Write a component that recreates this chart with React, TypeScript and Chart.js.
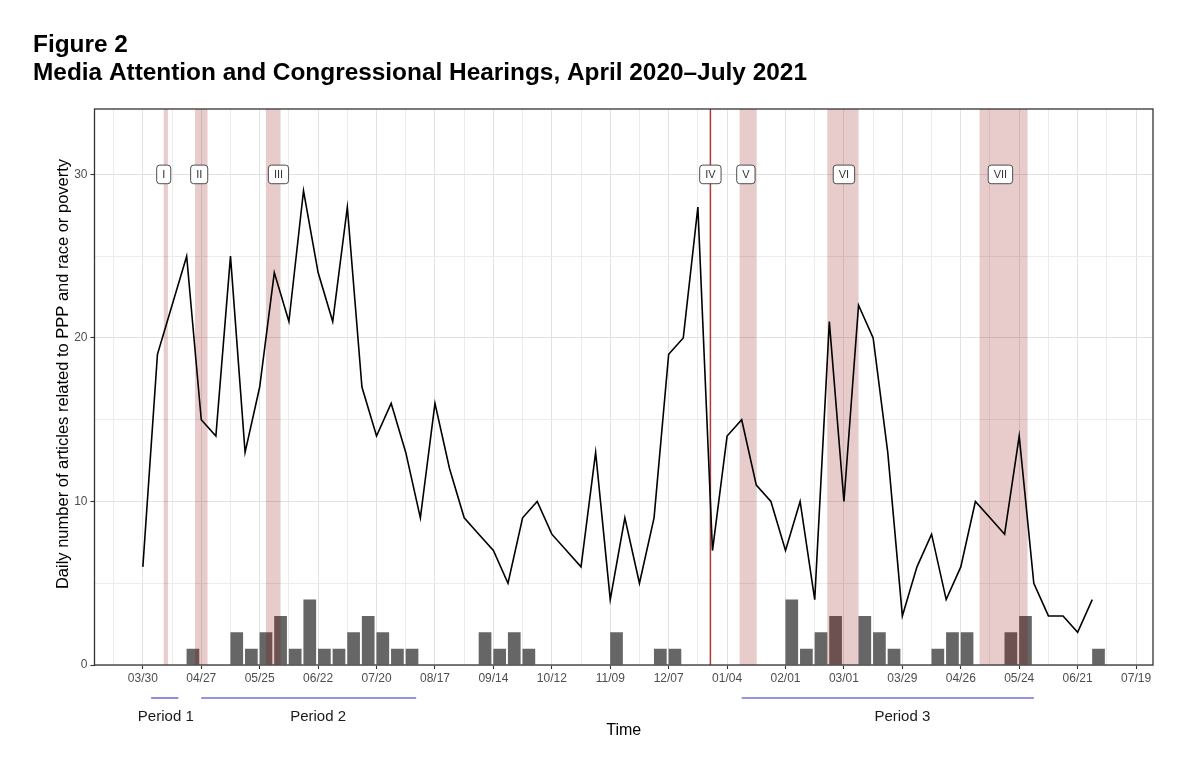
import React, { useEffect, useRef } from "react";
import { Chart, registerables } from "chart.js";

Chart.register(...registerables);

const FONT = "'Liberation Sans', Arial, Helvetica, sans-serif";

// Weekly series; week 0 begins Monday 2020-03-30
const SERIES_START = "2020-03-30";

// Daily number of articles related to PPP and race or poverty (one value per week)
const articleCounts = [
  6, 19, 22, 25, 15, 14, 25, 13, 17, 24, 21, 29, 24, 21, 28, 17, 14, 16, 13, 9,
  16, 12, 9, 8, 7, 5, 9, 10, 8, 7, 6, 13, 4, 9, 5, 9, 19, 20, 28, 7,
  14, 15, 11, 10, 7, 10, 4, 21, 10, 22, 20, 13, 3, 6, 8, 4, 6, 10, 9, 8,
  14, 5, 3, 3, 2, 4,
];

// Congressional hearings per week (week index, count)
const hearingWeeks = [
  3, 6, 7, 8, 9, 10, 11, 12, 13, 14, 15, 16, 17, 18, 23, 24, 25, 26, 32, 35,
  36, 44, 45, 46, 47, 49, 50, 51, 54, 55, 56, 59, 60, 65,
];
const hearingCounts = [
  1, 2, 1, 2, 3, 1, 4, 1, 1, 2, 3, 2, 1, 1, 2, 1, 2, 1, 2, 1,
  1, 4, 1, 2, 3, 3, 2, 1, 1, 2, 2, 2, 3, 1,
];

// Axis tick labels
const xTickLabels = [
  "03/30", "04/27", "05/25", "06/22", "07/20", "08/17", "09/14", "10/12", "11/09",
  "12/07", "01/04", "02/01", "03/01", "03/29", "04/26", "05/24", "06/21", "07/19",
];
const yTickLabels = [0, 10, 20, 30];

// Key events (inclusive date windows); a one-day entry is drawn as a rule
const eventNames = ["I", "II", "III", "IV", "V", "VI", "VII"];
const eventStarts = ["2020-04-09", "2020-04-24", "2020-05-28", "2020-12-27", "2021-01-10", "2021-02-21", "2021-05-05"];
const eventEnds = ["2020-04-10", "2020-04-29", "2020-06-03", "2020-12-27", "2021-01-17", "2021-03-07", "2021-05-27"];
const eventLabelDates = ["2020-04-09", "2020-04-26", "2020-06-03", "2020-12-27", "2021-01-13", "2021-03-01", "2021-05-15"];
const eventLabelLevel = 30;

// PPP application periods
const periodNames = ["Period 1", "Period 2", "Period 3"];
const periodStarts = ["2020-04-03", "2020-04-27", "2021-01-11"];
const periodEnds = ["2020-04-16", "2020-08-08", "2021-05-31"];
const periodLabelDates = ["2020-04-10", "2020-06-22", "2021-03-29"];

const TITLE_1 = "Figure 2";
const TITLE_2 = "Media Attention and Congressional Hearings, April 2020\u2013July 2021";
const Y_TITLE = "Daily number of articles related to PPP and race or poverty";
const X_TITLE = "Time";

const X_MIN = -3.31;
const X_MAX = 69.16;
const Y_MAX = 34;

const DAY_MS = 86400000;
const weeksFrom = (iso: string) =>
  (Date.parse(iso + "T00:00:00Z") - Date.parse(SERIES_START + "T00:00:00Z")) / (7 * DAY_MS);

const xGridWeeks: number[] = [];
for (let w = -2; w <= 68; w += 2) xGridWeeks.push(w);
const yGridValues: number[] = [];
for (let v = 0; v <= 30; v += 5) yGridValues.push(v);

const lineData = articleCounts.map((v, i) => ({ x: i, y: v }));
// bars sit at mid-week (Thursday) of each week
const barData = hearingWeeks.map((w, i) => ({ x: w + 3 / 7, y: hearingCounts[i] }));

const overlayPlugin = {
  id: "overlay",
  afterDatasetDraw(chart: any, args: any) {
    if (args.meta.type !== "bar") return;
    const { ctx, chartArea: a } = chart;
    const x = chart.scales.x;
    ctx.save();
    ctx.beginPath();
    ctx.rect(a.left, a.top, a.right - a.left, a.bottom - a.top);
    ctx.clip();
    eventStarts.forEach((s, i) => {
      const e = eventEnds[i];
      if (s === e) {
        const px = x.getPixelForValue(weeksFrom(s));
        ctx.strokeStyle = "rgba(165,35,35,0.9)";
        ctx.lineWidth = 1.5;
        ctx.beginPath();
        ctx.moveTo(px, a.top);
        ctx.lineTo(px, a.bottom);
        ctx.stroke();
      } else {
        const x0 = x.getPixelForValue(weeksFrom(s));
        const x1 = x.getPixelForValue(weeksFrom(e) + 1 / 7);
        ctx.fillStyle = "rgba(139,0,0,0.2)";
        ctx.fillRect(x0, a.top, x1 - x0, a.bottom - a.top);
      }
    });
    ctx.restore();
  },
  afterDatasetsDraw(chart: any) {
    const { ctx, chartArea: a } = chart;
    const x = chart.scales.x;
    const y = chart.scales.y;
    // panel border
    ctx.save();
    ctx.strokeStyle = "#333333";
    ctx.lineWidth = 1.3;
    ctx.strokeRect(a.left, a.top, a.right - a.left, a.bottom - a.top);
    // event labels
    ctx.font = `11px ${FONT}`;
    ctx.textAlign = "center";
    ctx.textBaseline = "middle";
    eventNames.forEach((name, i) => {
      const cx = x.getPixelForValue(weeksFrom(eventLabelDates[i]));
      const cy = y.getPixelForValue(eventLabelLevel);
      const w = ctx.measureText(name).width + 11;
      const h = 18.6;
      ctx.beginPath();
      ctx.roundRect(cx - w / 2, cy - h / 2, w, h, 3);
      ctx.fillStyle = "#ffffff";
      ctx.fill();
      ctx.strokeStyle = "#3a3a3a";
      ctx.lineWidth = 0.9;
      ctx.stroke();
      ctx.fillStyle = "#333333";
      ctx.fillText(name, cx, cy + 0.5);
    });
    ctx.restore();
  },
  afterDraw(chart: any) {
    const { ctx, chartArea: a } = chart;
    const x = chart.scales.x;
    ctx.save();
    // headings
    ctx.fillStyle = "#000000";
    ctx.textAlign = "left";
    ctx.textBaseline = "alphabetic";
    ctx.font = `bold 24.4px ${FONT}`;
    ctx.fillText(TITLE_1, 33, 52);
    ctx.fillText(TITLE_2, 33, 79.5);
    // y-axis title
    ctx.save();
    ctx.translate(68, 374);
    ctx.rotate(-Math.PI / 2);
    ctx.textAlign = "center";
    ctx.font = `16.5px ${FONT}`;
    ctx.fillStyle = "#000000";
    ctx.fillText(Y_TITLE, 0, 0);
    ctx.restore();
    // period brackets below the axis
    ctx.strokeStyle = "#6f6fd8";
    ctx.lineWidth = 1.6;
    periodNames.forEach((name, i) => {
      const x0 = x.getPixelForValue(weeksFrom(periodStarts[i]));
      const x1 = x.getPixelForValue(weeksFrom(periodEnds[i]));
      ctx.beginPath();
      ctx.moveTo(x0, 698);
      ctx.lineTo(x1, 698);
      ctx.stroke();
      ctx.font = `15px ${FONT}`;
      ctx.fillStyle = "#1a1a1a";
      ctx.textAlign = "center";
      ctx.fillText(name, x.getPixelForValue(weeksFrom(periodLabelDates[i])), 721);
    });
    // x-axis title
    ctx.font = `16px ${FONT}`;
    ctx.fillStyle = "#000000";
    ctx.textAlign = "center";
    ctx.fillText(X_TITLE, (a.left + a.right) / 2, 735);
    ctx.restore();
  },
};

export default function App() {
  const ref = useRef<HTMLCanvasElement>(null);

  useEffect(() => {
    if (!ref.current) return;
    const majorX = (v: number) => v % 4 === 0;
    const majorY = (v: number) => yTickLabels.includes(v);
    const chart = new Chart(ref.current, {
      type: "bar",
      data: {
        datasets: [
          {
            type: "line",
            label: "Articles",
            data: lineData,
            borderColor: "#000000",
            borderWidth: 1.6,
            pointRadius: 0,
            tension: 0,
            order: 1,
          } as any,
          {
            type: "bar",
            label: "Hearings",
            data: barData,
            backgroundColor: "#666666",
            borderWidth: 0,
            categoryPercentage: 1,
            barPercentage: 0.87,
            order: 2,
          } as any,
        ],
      },
      options: {
        animation: false,
        responsive: false,
        maintainAspectRatio: false,
        devicePixelRatio: 1,
        layout: { padding: { left: 0, top: 109, right: 47, bottom: 0 } },
        plugins: { legend: { display: false }, tooltip: { enabled: false }, title: { display: false } },
        scales: {
          x: {
            type: "linear",
            min: X_MIN,
            max: X_MAX,
            offset: false,
            afterBuildTicks: (s: any) => {
              s.ticks = xGridWeeks.map((v) => ({ value: v }));
            },
            afterFit: (s: any) => {
              s.height = 100;
            },
            ticks: {
              autoSkip: false,
              maxRotation: 0,
              minRotation: 0,
              padding: 2,
              color: "#4d4d4d",
              font: { size: 12, family: FONT },
              callback: (v: any) => (majorX(v) ? xTickLabels[v / 4] ?? "" : ""),
            },
            grid: {
              offset: false,
              color: (c: any) => (majorX(c.tick.value) ? "#e2e2e2" : "#ececec"),
              lineWidth: 1,
              tickColor: (c: any) => (majorX(c.tick.value) ? "#333333" : "rgba(0,0,0,0)"),
              tickLength: 4,
              tickWidth: 1.1,
            },
            border: { display: false },
          },
          y: {
            type: "linear",
            min: 0,
            max: Y_MAX,
            afterBuildTicks: (s: any) => {
              s.ticks = yGridValues.map((v) => ({ value: v }));
            },
            afterFit: (s: any) => {
              s.width = 94.5;
            },
            ticks: {
              padding: 3,
              color: "#4d4d4d",
              font: { size: 12, family: FONT },
              callback: (v: any) => (majorY(v) ? String(v) : ""),
            },
            grid: {
              color: (c: any) => (majorY(c.tick.value) ? "#e2e2e2" : "#ececec"),
              lineWidth: 1,
              tickColor: (c: any) => (majorY(c.tick.value) ? "#333333" : "rgba(0,0,0,0)"),
              tickLength: 4,
              tickWidth: 1.1,
            },
            border: { display: false },
          },
        },
      } as any,
      plugins: [overlayPlugin],
    });
    return () => chart.destroy();
  }, []);

  return (
    <div style={{ position: "absolute", left: 0, top: 0, width: 1200, height: 765, background: "#ffffff" }}>
      <canvas ref={ref} width={1200} height={765} style={{ display: "block", width: 1200, height: 765 }} />
    </div>
  );
}
